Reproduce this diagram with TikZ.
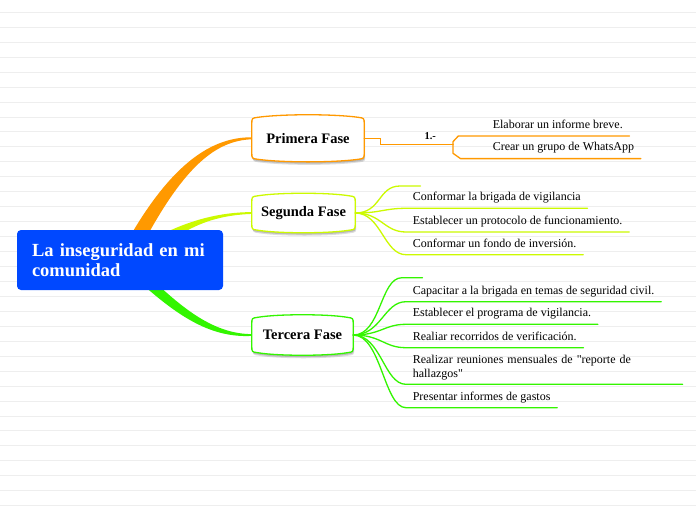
\documentclass[tikz,border=0pt]{standalone}
\usepackage{fontspec}
\setmainfont{Liberation Serif}[Ligatures=TeXOff]
\usetikzlibrary{calc}
\definecolor{cOrange}{RGB}{255,153,0}
\definecolor{cYel}{RGB}{204,250,0}
\definecolor{cGreen}{RGB}{51,245,0}
\definecolor{cBlue}{RGB}{0,72,255}
\definecolor{cGrid}{RGB}{238,238,238}
\definecolor{cShadow}{RGB}{120,120,120}
\pgfdeclarelayer{bg}
\pgfsetlayers{bg,main}
\newcommand\barrelpath[2]{%
 ($(#1.north west)+(0,6)$) -- ($(#1.south west)+(0,-6)$)
 .. controls ($(#1.south west)$) .. ($(#1.south west)+(6,0.8)$)
 .. controls ($(#1.south)+(-25,#2)$) and ($(#1.south)+(25,#2)$) .. ($(#1.south east)+(-6,0.8)$)
 .. controls ($(#1.south east)$) .. ($(#1.south east)+(0,-6)$)
 -- ($(#1.north east)+(0,6)$)
 .. controls ($(#1.north east)$) .. ($(#1.north east)+(-6,-0.8)$)
 .. controls ($(#1.north)+(25,-#2)$) and ($(#1.north)+(-25,-#2)$) .. ($(#1.north west)+(6,-0.8)$)
 .. controls ($(#1.north west)$) .. ($(#1.north west)+(0,6)$) -- cycle}
\newcommand\phasebox[2]{%
 \fill[cShadow,opacity=.25,transform canvas={xshift=1pt,yshift=-3pt}] \barrelpath{#1}{4.2};
 \fill[cShadow,opacity=.35,transform canvas={xshift=0.5pt,yshift=-1.8pt}] \barrelpath{#1}{4.2};
 \filldraw[fill=white,draw=#2,line width=1.3pt] \barrelpath{#1}{4.2};
}
\tikzset{
 phase/.style={inner sep=0pt, font=\bfseries\fontsize{14.5}{16}\selectfont},
 leafbase/.style={anchor=south west, inner xsep=6.6pt, inner ysep=4.5pt, font=\fontsize{12}{13.3}\selectfont},
 leaf/.style={leafbase, text height=9pt, text depth=3pt},
 stub/.style={anchor=south west, inner sep=0pt, minimum width=20pt, minimum height=1pt},
 branch/.style={line width=1.3pt, line cap=round},
}
\begin{document}
\begin{tikzpicture}[x=1pt,y=-1pt]
\useasboundingbox (0,0) rectangle (696,520);

% central node
\node[fill=cBlue, rounded corners=4pt, text=white, inner xsep=15pt, inner ysep=0pt,
      font=\bfseries\fontsize{18.5}{20.3}\selectfont, align=left, text width=176pt,
      minimum height=60pt] (c) at (120,260) {La inseguridad en mi\\comunidad};

% phase nodes
\node[phase, minimum width=112pt, minimum height=40pt] (p1) at (308,138.3) {Primera Fase};
\node[phase, minimum width=103pt, minimum height=32.4pt] (p2) at (303.5,213) {Segunda Fase};
\node[phase, minimum width=101pt, minimum height=33.4pt] (p3) at (302.5,335) {Tercera Fase};

\begin{pgfonlayer}{bg}
 \fill[white] (0,0) rectangle (696,520);
 \foreach \k in {0,...,33} \draw[cGrid, line width=0.9pt] (0,12.3+14.95*\k) -- (696,12.3+14.95*\k);
 % tapered main branches
 \fill[cOrange] ($(c.north)+(8,10)$) .. controls (172,163) and (212,137) .. ($(p1.west)+(0,-1)$)
   -- ($(p1.west)+(0,1)$) .. controls (216,140.5) and (185,166) .. ($(c.north)+(25,10)$) -- cycle;
 \fill[cYel] ($(c.north)+(39,6)$) .. controls (190,220) and (220,212.2) .. ($(p2.west)+(0,-0.9)$)
   -- ($(p2.west)+(0,0.9)$) .. controls (222,215) and (200,222) .. ($(c.north)+(58,6)$) -- cycle;
 \fill[cGreen] ($(c.south)+(35,-8)$) .. controls (185,310) and (215,334) .. ($(p3.west)+(0,-0.9)$)
   -- ($(p3.west)+(0,0.9)$) .. controls (212,338) and (180,318) .. ($(c.south)+(20,-8)$) -- cycle;
 \phasebox{p1}{cOrange}
 \phasebox{p2}{cYel}
 \phasebox{p3}{cGreen}
\end{pgfonlayer}

% Primera Fase
\coordinate (j1) at (453,144.3);
\node[font=\bfseries\fontsize{10.5}{12}\selectfont] (n1) at (430.2,136) {1.-};
\node[leaf] (e1) at (486,136) {Elaborar un informe breve.};
\node[leaf] (e2) at (486,158.6) {Crear un grupo de WhatsApp};
\draw[cOrange, branch] (p1.east) -- ++(16,0) |- (j1);
\draw[cOrange, branch] (j1) -- ++(0,-2.6) -- ++(5.3,-5.7) -- (e1.south west) -- (e1.south east);
\draw[cOrange, branch] (j1) -- ++(0,9) -- ++(7.5,5.3) -- (e2.south west) -- (e2.south east);

% Segunda Fase
\node[stub] (s2) at (400,186) {};
\node[leaf] (a1) at (406,208.3) {Conformar la brigada de vigilancia};
\node[leaf] (a2) at (406,232) {Establecer un protocolo de funcionamiento.};
\node[leaf] (a3) at (406,254.7) {Conformar un fondo de inversión.};
\foreach \n in {s2,a1,a2,a3}
  \draw[cYel, branch] (p2.east) .. controls +(26,0) and +(-22,0) .. (\n.south west) -- (\n.south east);

% Tercera Fase
\node[stub] (s3) at (402,277.7) {};
\node[leaf] (b1) at (406,301.7) {Capacitar a la brigada en temas de seguridad civil.};
\node[leaf] (b2) at (406,324.3) {Establecer el programa de vigilancia.};
\node[leaf] (b3) at (406,347.7) {Realiar recorridos de verificación.};
\node[leafbase, text width=263pt, align=left] (b4) at (406,384.3) {Realizar reuniones mensuales de "reporte de\\hallazgos"};
\node[leaf] (b5) at (406,407.7) {Presentar informes de gastos};
\foreach \n in {s3,b1,b2,b3,b4,b5}
  \draw[cGreen, branch] (p3.east) .. controls +(28,0) and +(-22,0) .. (\n.south west) -- (\n.south east);
\end{tikzpicture}
\end{document}
